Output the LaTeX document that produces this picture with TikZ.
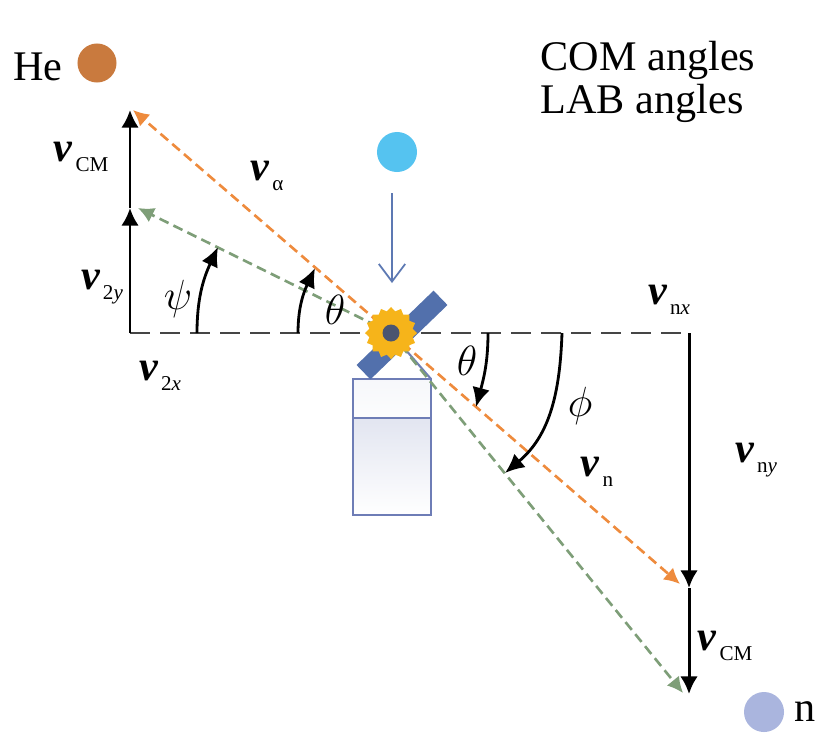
\documentclass[tikz,border=0pt]{standalone}
\usepackage{fontspec}
\setmainfont{Liberation Serif}
\usetikzlibrary{arrows.meta,shapes.geometric}

\definecolor{heorange}{HTML}{C97A3E}
\definecolor{incblue}{HTML}{55C3F0}
\definecolor{nlilac}{HTML}{AAB5DE}
\definecolor{comorange}{HTML}{EE8B3D}
\definecolor{labgreen}{HTML}{7E9E78}
\definecolor{axisgray}{HTML}{454545}
\definecolor{beamblue}{HTML}{5D79B3}
\definecolor{barblue}{HTML}{5270AC}
\definecolor{holderblue}{HTML}{6E7DB6}
\definecolor{gearyellow}{HTML}{F6B41A}
\definecolor{coregray}{HTML}{4A5570}

\newcommand{\vel}[1]{\textbf{\textit{v}}\kern0.8pt\raisebox{-2.8pt}{\fontsize{6}{7}\selectfont #1}}

\begin{document}
\begin{tikzpicture}
  [x=0.01cm,y=0.01cm,every node/.style={font=\fontsize{12}{14}\selectfont,inner sep=0pt},
   ball/.style={circle,minimum size=0.39cm},
   axis/.style={draw=axisgray,line width=0.8pt,dash pattern=on 0.2cm off 0.1cm},
   comp/.style={draw=black,line width=0.85pt,-{Latex[length=5pt,width=5pt]}},
   com/.style={draw=comorange,line width=0.75pt,dash pattern=on 0.1cm off 0.055cm,-{Latex[length=4.5pt,width=4.5pt]}},
   lab/.style={draw=labgreen,line width=0.75pt,dash pattern=on 0.1cm off 0.055cm,-{Latex[length=4.5pt,width=4.5pt]}},
   sweep/.style={draw=black,line width=0.8pt,-{Latex[length=5.5pt,width=5pt]}},
   beamarrow/.style={draw=beamblue,line width=0.5pt,-{Straight Barb[length=5pt,width=7.5pt]}}]
  \useasboundingbox (0,0) rectangle (828,750);

  \coordinate (O) at (391,417);
  \coordinate (L) at (130,417);
  \coordinate (R) at (689,417);
  \coordinate (ly) at (130,542);
  \coordinate (lcm) at (130,640);
  \coordinate (ry) at (689,162);
  \coordinate (rcm) at (689,56);
  \coordinate (hecom) at (133,640);
  \coordinate (helab) at (138,542);
  \coordinate (ncom) at (680,166);
  \coordinate (nlab) at (683,57);
  \coordinate (hc) at (431,371);
  \coordinate (bs) at (392,557);
  \coordinate (bt) at (392,467);
  \coordinate (psiA) at (197,417);
  \coordinate (psiB) at (218,503);
  \coordinate (thLA) at (298,417);
  \coordinate (thLB) at (315,482);
  \coordinate (thRA) at (488,417);
  \coordinate (thRB) at (476,343);
  \coordinate (phiA) at (562,417);
  \coordinate (phiB) at (505,277);

  \shade[top color=holderblue!6,bottom color=holderblue!2] (353,332) rectangle (431,371);
  \shade[top color=holderblue!20,bottom color=white] (353,235) rectangle (431,332);
  \draw[holderblue,line width=0.6pt] (353,235) rectangle (431,371) (353,332) -- (431,332);
  \draw[holderblue,line width=0.6pt] (O) -- (hc);

  \node (bar) [fill=barblue,minimum width=1.07cm,minimum height=0.2cm,rotate=44] at (402,415) {};

\path
    (L) edge [axis] (O)
    (O) edge [axis] (R);

\path
    (O) edge [com] (hecom)
    (O) edge [com] (ncom)
    (O) edge [lab] (helab)
    (O) edge [lab] (nlab);

\path
    (L) edge [comp] (ly)
    (ly) edge [comp] (lcm)
    (R) edge [comp] (ry)
    (ry) edge [comp] (rcm);

\path
    (psiA) edge [sweep,out=90,in=245] (psiB)
    (thLA) edge [sweep,out=90,in=245] (thLB)
    (thRA) edge [sweep,out=270,in=75] (thRB)
    (phiA) edge [sweep,out=268,in=40] (phiB);

  \node (gear) [star,star points=16,star point ratio=1.18,fill=gearyellow,minimum size=0.52cm] at (O) {};
  \node (core) [circle,fill=coregray,minimum size=0.17cm] at (O) {};

  \node (he) [ball,fill=heorange] at (97,687) {};
  \node (heTxt) at (38,683) {He};
  \node (beam) [ball,fill=incblue,minimum size=0.4cm] at (397,598) {};
  \path (bs) edge [beamarrow] (bt);
  \node (nb) [ball,fill=nlilac,minimum size=0.4cm] at (764,38) {};
  \node (nTxt) at (805,38) {n};

  \node (comTxt) [anchor=base west] at (540,680) {COM angles};
  \node (labTxt) [anchor=base west] at (540,637) {LAB angles};

  \node (vcmL) at (81,593) {\vel{CM}};
  \node (valpha) at (267,574) {\vel{α}};
  \node (v2y) at (102,463) {\vel{2\textit{y}}};
  \node (v2x) at (160,374) {\vel{2\textit{x}}};
  \node (vnx) at (669,450) {\vel{n\textit{x}}};
  \node (vn) at (597,278) {\vel{n}};
  \node (vny) at (756,290) {\vel{n\textit{y}}};
  \node (vcmR) at (725,104) {\vel{CM}};

  \node (psiTxt) at (178,451) {$\psi$};
  \node (thLTxt) at (335,440) {$\theta$};
  \node (thRTxt) at (467,389) {$\theta$};
  \node (phiTxt) at (580,344) {$\phi$};

\end{tikzpicture}
\end{document}
